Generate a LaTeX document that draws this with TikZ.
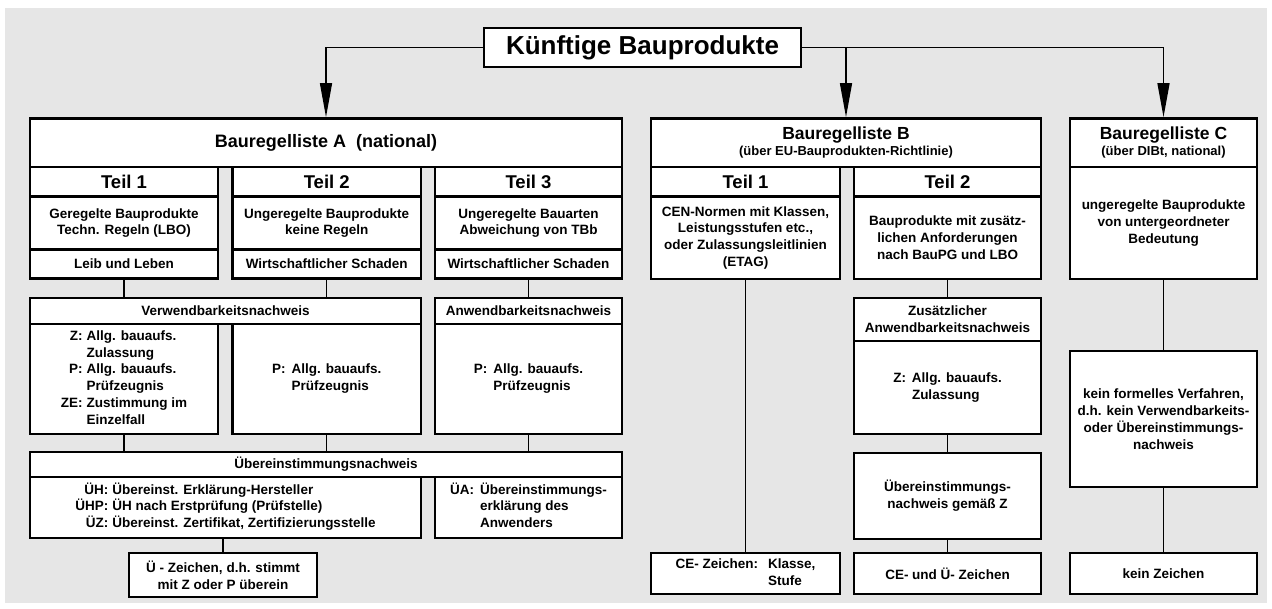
\documentclass[tikz,border=0pt]{standalone}
\usepackage{fontspec}
\setmainfont{Liberation Sans}
\usetikzlibrary{arrows.meta}
\definecolor{bgc}{HTML}{E6E6E6}
\newcommand{\fb}{\fontsize{13.5}{16.8}\selectfont\bfseries}
\newcommand{\fh}{\fontsize{17.5}{19}\selectfont\bfseries}
\newcommand{\fs}{\fontsize{13}{15}\selectfont\bfseries}
\newcommand{\ft}{\fontsize{18.5}{20}\selectfont\bfseries}
\newcommand{\bx}[7][]{\node[box,minimum width={#5pt-#3pt},minimum height={#6pt-#4pt},#1] (#2) at ({(#3+#5)/2},{(#4+#6)/2}) {#7};}
\tikzset{
  box/.style={draw=black,line width=2.7pt,fill=white,inner sep=0pt,align=center,font=\fb},
  conn/.style={line width=1.4pt},
  arr/.style={conn,-{Triangle[length=34pt,width=12pt]}},
}
\begin{document}
\begin{tikzpicture}[x=1pt,y=-1pt]
\useasboundingbox (0,0) rectangle (1272,608);
\fill[white] (0,0) rectangle (1272,608);
\fill[bgc] (5,8) rectangle (1267,603);
% title
\bx[font=\fontsize{26}{30}\selectfont\bfseries]{title}{484}{28}{801}{67}{Künftige Bauprodukte}
% headers
\bx[font=\fontsize{18}{20}\selectfont\bfseries]{A}{30}{118.5}{622}{167}{Bauregelliste A\ \ (national)}
\bx{B}{651}{118.5}{1041}{167}{{\fh Bauregelliste B}\\[-1pt]{\fs (über EU-Bauprodukten-Richtlinie)}}
\bx{C}{1070}{118.5}{1257}{167}{{\fh Bauregelliste C}\\[-1pt]{\fs (über DIBt, national)}}
% A columns
\bx[font=\ft]{at1}{30}{167}{218}{196.5}{Teil 1}
\bx{ad1}{30}{196.5}{218}{249.5}{Geregelte Bauprodukte\\Techn. Regeln (LBO)}
\bx{al1}{30}{249.5}{218}{278.5}{Leib und Leben}
\bx[font=\ft]{at2}{232.5}{167}{421}{196.5}{Teil 2}
\bx{ad2}{232.5}{196.5}{421}{249.5}{Ungeregelte Bauprodukte\\keine Regeln}
\bx{al2}{232.5}{249.5}{421}{278.5}{Wirtschaftlicher Schaden}
\bx[font=\ft]{at3}{435}{167}{622}{196.5}{Teil 3}
\bx{ad3}{435}{196.5}{622}{249.5}{Ungeregelte Bauarten\\Abweichung von TBb}
\bx{al3}{435}{249.5}{622}{278.5}{Wirtschaftlicher Schaden}
% B columns
\bx[font=\ft]{bt1}{651}{167}{840}{196.5}{Teil 1}
\bx{bd1}{651}{196.5}{840}{279}{CEN-Normen mit Klassen,\\Leistungsstufen etc.,\\oder Zulassungsleitlinien\\(ETAG)}
\bx[font=\ft]{bt2}{854}{167}{1041}{196.5}{Teil 2}
\bx{bd2}{854}{196.5}{1041}{279}{Bauprodukte mit zusätz-\\lichen Anforderungen\\nach BauPG und LBO}
% C
\bx{cd}{1070}{167}{1257}{279}{ungeregelte Bauprodukte\\von untergeordneter\\Bedeutung}
% A: Verwendbarkeit
\bx{verw}{30}{298}{421}{324}{Verwendbarkeitsnachweis}
\bx{vz}{30}{324}{218}{434}{\begin{tabular}{@{}r@{\hspace{4pt}}l@{}}Z: & Allg. bauaufs.\\ & Zulassung\\ P: & Allg. bauaufs.\\ & Prüfzeugnis\\ ZE: & Zustimmung im\\ & Einzelfall\end{tabular}}
\bx{vp}{232.5}{324}{421}{434}{\begin{tabular}{@{}r@{\hspace{6pt}}l@{}}P: & Allg. bauaufs.\\ & Prüfzeugnis\end{tabular}}
\bx{anw}{435}{298}{622}{324}{Anwendbarkeitsnachweis}
\bx{ap}{435}{324}{622}{434}{\begin{tabular}{@{}r@{\hspace{6pt}}l@{}}P: & Allg. bauaufs.\\ & Prüfzeugnis\end{tabular}}
% A: Uebereinstimmung
\bx{ueb}{30}{452}{622}{477}{Übereinstimmungsnachweis}
\bx{uh}{30}{477}{421}{538}{\begin{tabular}{@{}r@{\hspace{4pt}}l@{}}ÜH: & Übereinst. Erklärung-Hersteller\\ ÜHP: & ÜH nach Erstprüfung (Prüfstelle)\\ ÜZ: & Übereinst. Zertifikat, Zertifizierungsstelle\end{tabular}}
\bx{ua}{435}{477}{622}{538}{\begin{tabular}{@{}r@{\hspace{6pt}}l@{}}ÜA: & Übereinstimmungs-\\ & erklärung des\\ & Anwenders\end{tabular}}
\bx{uz}{129}{553}{317}{597}{Ü - Zeichen, d.h. stimmt\\mit Z oder P überein}
% B lower
\bx{zus}{854}{298}{1041}{341}{Zusätzlicher\\Anwendbarkeitsnachweis}
\bx{bz}{854}{341}{1041}{434}{\begin{tabular}{@{}r@{\hspace{6pt}}l@{}}Z: & Allg. bauaufs.\\ & Zulassung\end{tabular}}
\bx{bu}{854}{453}{1041}{539}{Übereinstimmungs-\\nachweis gemäß Z}
\bx{ceu}{854}{553}{1041}{594}{CE- und Ü- Zeichen}
\bx{ce}{651}{553}{840}{594}{\begin{tabular}{@{}l@{\hspace{10pt}}l@{}}CE- Zeichen: & Klasse,\\ & Stufe\end{tabular}}
% C lower
\bx{kf}{1070}{351}{1257}{487}{kein formelles Verfahren,\\d.h. kein Verwendbarkeits-\\oder Übereinstimmungs-\\nachweis}
\bx{kz}{1070}{553}{1257}{594}{kein Zeichen}
% arrows from title
\draw[arr] (title.west) -| (A.north);
\draw[arr] (title.east) -| (C.north);
\draw[arr] (B.north |- title.east) -- (B.north);
% connectors
\draw[conn] (al1.south) -- (al1.south |- verw.north);
\draw[conn] (al2.south) -- (al2.south |- verw.north);
\draw[conn] (al3.south) -- (anw.north);
\draw[conn] (vz.south) -- (vz.south |- ueb.north);
\draw[conn] (vp.south) -- (vp.south |- ueb.north);
\draw[conn] (ap.south) -- (ap.south |- ueb.north);
\draw[conn] (uz.north |- uh.south) -- (uz.north);
\draw[conn] (bd1.south) -- (ce.north);
\draw[conn] (bd2.south) -- (zus.north);
\draw[conn] (bz.south) -- (bu.north);
\draw[conn] (bu.south) -- (ceu.north);
\draw[conn] (cd.south) -- (kf.north);
\draw[conn] (kf.south) -- (kz.north);
\end{tikzpicture}
\end{document}
